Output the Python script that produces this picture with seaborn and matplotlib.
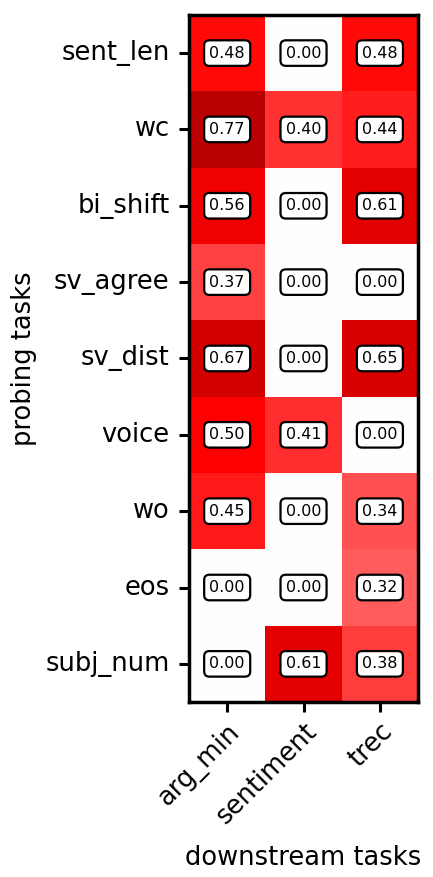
import numpy as np
import pandas as pd
import matplotlib
matplotlib.use("Agg")
import matplotlib.pyplot as plt
import seaborn as sns

probing = ["sent_len", "wc", "bi_shift", "sv_agree", "sv_dist", "voice", "wo", "eos", "subj_num"]
downstream = ["arg_min", "sentiment", "trec"]

arg_min = [0.48, 0.77, 0.56, 0.37, 0.67, 0.50, 0.45, 0.00, 0.00]
sentiment = [0.00, 0.40, 0.00, 0.00, 0.00, 0.41, 0.00, 0.00, 0.61]
trec = [0.48, 0.44, 0.61, 0.00, 0.65, 0.00, 0.34, 0.32, 0.38]

df = pd.DataFrame({"arg_min": arg_min, "sentiment": sentiment, "trec": trec}, index=probing)

fig = plt.figure(figsize=(4.33, 8.77), dpi=100)
ax = fig.add_axes([0.4365, 0.1995, 0.529, 0.7835])

sns.heatmap(df, ax=ax, cmap="seismic", vmin=-1, vmax=1, cbar=False,
            annot=True, fmt=".2f",
            annot_kws={"color": "black", "fontsize": 11.5,
                       "bbox": dict(boxstyle="round,pad=0.33", fc="white", ec="black", lw=1.6)})

for s in ax.spines.values():
    s.set_visible(True)
    s.set_linewidth(2.5)

ax.tick_params(axis="both", length=7, width=2.2, labelsize=18.5)
ax.tick_params(axis="y", pad=7)
ax.tick_params(axis="x", pad=5)
ax.set_yticklabels(probing, rotation=0)
ax.set_xticklabels(downstream, rotation=45, ha="right", rotation_mode="anchor")
ax.set_xlabel("downstream tasks", fontsize=18.5, labelpad=11)
ax.set_ylabel("probing tasks", fontsize=18.5, labelpad=6)

fig.savefig("out.png", dpi=100)
